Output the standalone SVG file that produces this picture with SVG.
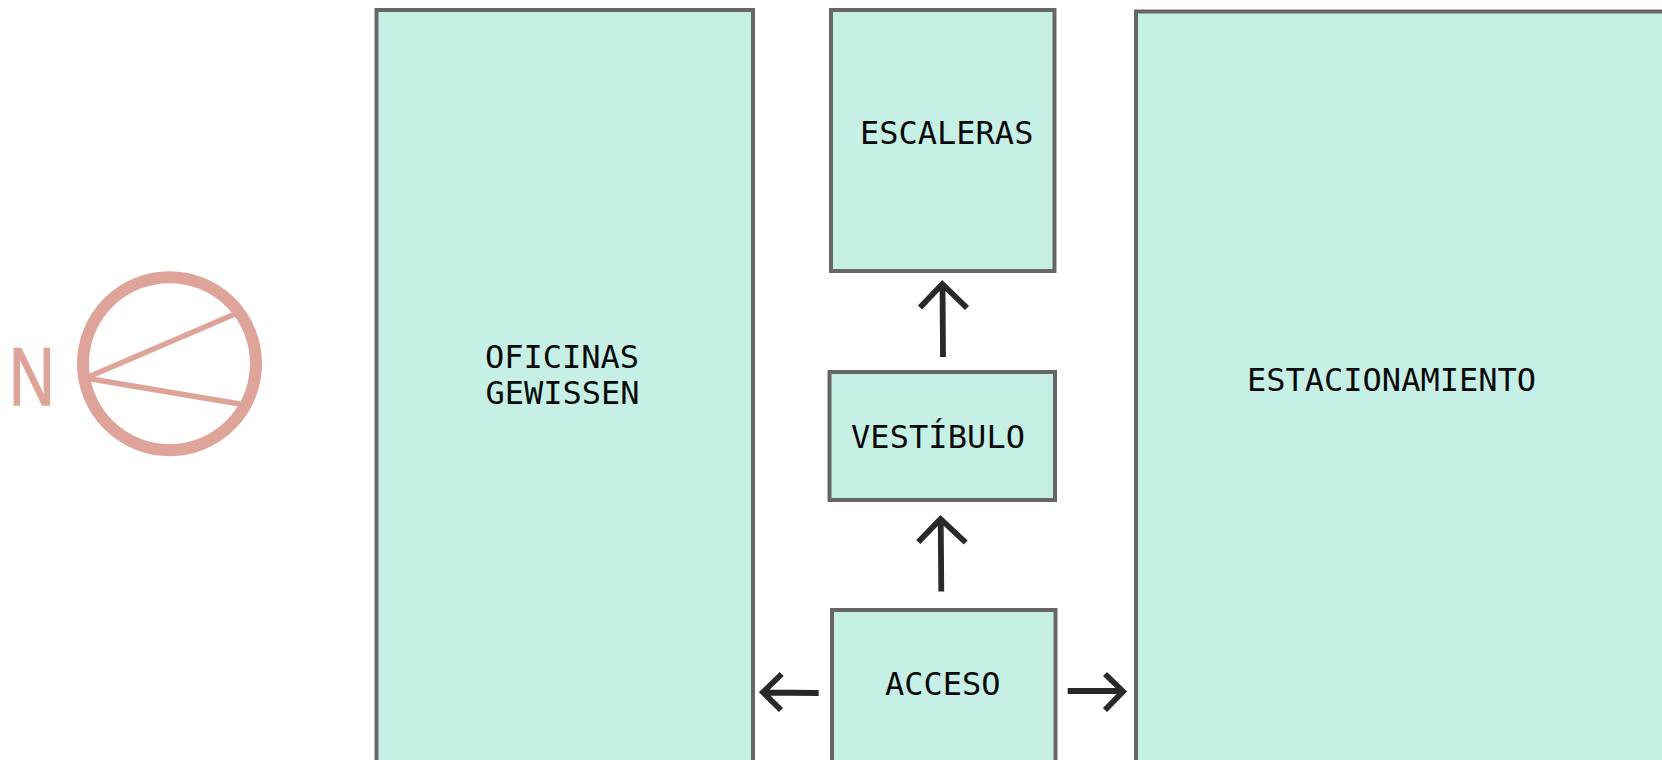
<svg xmlns="http://www.w3.org/2000/svg" width="1662" height="760" viewBox="0 0 1662 760">
<style>
.room{fill:#c6f0e6;stroke:#666;stroke-width:4}
.lbl{font-family:"DejaVu Sans Mono",monospace;font-size:32px;fill:#0a0a0a}
.arrow{fill:none;stroke:#2b282a;stroke-width:5.8}
.pink{fill:none;stroke:#dfa499}
</style>
<rect width="1662" height="760" fill="#fff"/>
<g id="norte">
<circle class="pink" cx="169.5" cy="363.7" r="86.5" stroke-width="12"/>
<path class="pink" d="M87 377.500L235 314M88 378.500L240 404" stroke-width="5.400"/>
<path d="M250.500 362Q250 376 246 392Q243 405 240 414L244 412L253 385L254 362Z" fill="#dfa499"/>
<text transform="translate(9 405) scale(.77 1)" font-family="Liberation Sans,sans-serif" font-size="82" fill="#dfa499" stroke="#dfa499" stroke-width="1.500">N</text>
</g>
<g id="oficinas">
<rect class="room" x="376.500" y="10" width="376.500" height="770"/>
<text class="lbl" x="485" y="367.500">OFICINAS</text>
<text class="lbl" x="485.500" y="403.500">GEWISSEN</text>
</g>
<g id="escaleras">
<rect class="room" x="831" y="10" width="223.500" height="261"/>
<text class="lbl" x="860" y="143.500">ESCALERAS</text>
</g>
<g id="vestibulo">
<rect class="room" x="829.500" y="372" width="225.500" height="128"/>
<text class="lbl" x="851" y="448" textLength="174">VESTÍBULO</text>
</g>
<g id="acceso">
<rect class="room" x="832" y="610" width="223.500" height="170"/>
<text class="lbl" x="885" y="695">ACCESO</text>
</g>
<g id="estacionamiento">
<rect class="room" x="1136" y="11.500" width="560" height="770"/>
<text class="lbl" x="1247" y="390.500">ESTACIONAMIENTO</text>
</g>
<g id="conectores">
<path class="arrow" d="M943 357L942.500 284M920 307.500L942.300 284L967 308"/>
<path class="arrow" d="M941.300 591.500L940.700 518M918.300 542L940.500 519L965.700 542.500"/>
<path class="arrow" d="M818.700 693L765 692.500M781.700 674L763 692.300L781 710"/>
<path class="arrow" d="M1067.700 691L1122 691M1105 674L1123 691.500L1105 710"/>
</g>
</svg>
